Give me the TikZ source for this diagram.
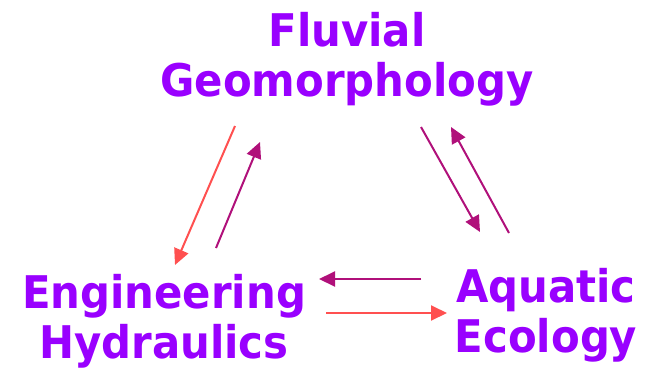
\documentclass[tikz,border=0pt]{standalone}
\usepackage{fontspec}
\setmainfont{DejaVu Sans}[FakeStretch=0.93]
\usetikzlibrary{arrows.meta}
\definecolor{lbl}{HTML}{9900FF}
\definecolor{mag}{HTML}{B0107A}
\definecolor{salmon}{HTML}{FF5050}
\tikzset{
  lab/.style={inner sep=0pt, align=center, text=lbl, font=\fontsize{45}{50}\selectfont\bfseries},
  conn/.style={line width=2pt, -{Triangle[length=16pt,width=15pt]}},
  magarrow/.style={conn, draw=mag, fill=mag},
  redarrow/.style={conn, draw=salmon, fill=salmon}
}
\begin{document}
\begin{tikzpicture}[x=1pt,y=-1pt]
\useasboundingbox (0,0) rectangle (658,367);
\node[lab] (fluv) at (347,59) {Fluvial\\Geomorphology};
\node[lab] (eng) at (164,321) {Engineering\\Hydraulics};
\node[lab] (eco) at (546,315) {Aquatic\\Ecology};
% arrow end points
\coordinate (r1s) at (235,126); \coordinate (r1e) at (175,265);
\coordinate (m1s) at (216,248); \coordinate (m1e) at (260,142);
\coordinate (m2s) at (421,127); \coordinate (m2e) at (480,232);
\coordinate (m3s) at (509,233); \coordinate (m3e) at (451,127);
\coordinate (m4s) at (421,279); \coordinate (m4e) at (319,279);
\coordinate (r2s) at (326,313); \coordinate (r2e) at (447,313);
\draw[redarrow] (r1s) -- (r1e);
\draw[magarrow] (m1s) -- (m1e);
\draw[magarrow] (m2s) -- (m2e);
\draw[magarrow] (m3s) -- (m3e);
\draw[magarrow] (m4s) -- (m4e);
\draw[redarrow] (r2s) -- (r2e);
\end{tikzpicture}
\end{document}
